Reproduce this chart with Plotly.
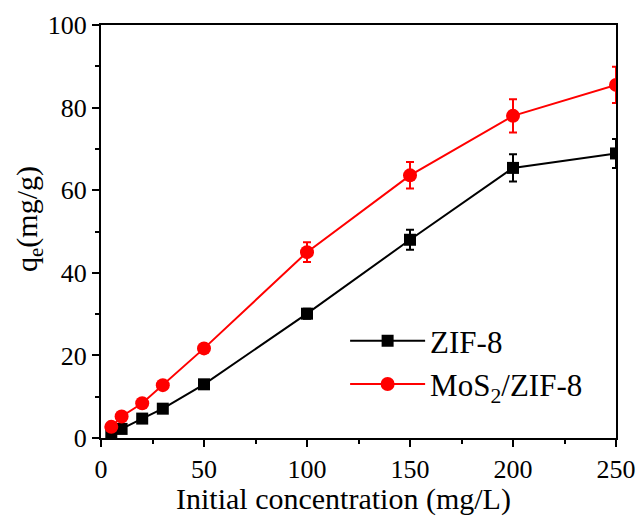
import plotly.graph_objects as go

conc = [5, 10, 20, 30, 50, 100, 150, 200, 250]
zif8 = [0.8, 2.2, 4.7, 7.1, 13.0, 30.1, 48.0, 65.4, 68.9]
zif8_err = [0.3, 0.4, 0.5, 0.6, 0.7, 1.2, 2.4, 3.3, 3.5]
mos2 = [2.7, 5.2, 8.4, 12.8, 21.7, 45.0, 63.6, 78.0, 85.5]
mos2_err = [0.3, 0.4, 0.5, 0.6, 0.7, 2.4, 3.2, 4.0, 4.4]

FONT = "Times New Roman, Liberation Serif, Tinos, serif"

fig = go.Figure()
fig.add_trace(go.Scatter(
    x=conc, y=zif8, name="ZIF-8", mode="lines+markers",
    line=dict(color="black", width=2),
    marker=dict(symbol="square", size=12, color="black"),
    error_y=dict(type="data", array=zif8_err, visible=True, color="black", thickness=2, width=4),
))
fig.add_trace(go.Scatter(
    x=conc, y=mos2, name="MoS<sub>2</sub>/ZIF-8", mode="lines+markers",
    line=dict(color="#ff0000", width=2),
    marker=dict(symbol="circle", size=14, color="#ff0000"),
    error_y=dict(type="data", array=mos2_err, visible=True, color="#ff0000", thickness=2, width=4),
))

axis_common = dict(
    showline=True, linecolor="black", linewidth=2, mirror=True,
    ticks="outside", ticklen=7, tickwidth=2, tickcolor="black",
    showgrid=False, zeroline=False, automargin=False,
    tickfont=dict(family=FONT, size=26, color="black"),
)
fig.update_xaxes(
    range=[0, 250], tick0=0, dtick=50,
    minor=dict(ticks="outside", ticklen=4, tickwidth=2, tickcolor="black", dtick=25, showgrid=False),
    **axis_common,
)
fig.update_yaxes(
    range=[0, 100], tick0=0, dtick=20,
    minor=dict(ticks="outside", ticklen=4, tickwidth=2, tickcolor="black", dtick=10, showgrid=False),
    **axis_common,
)
fig.add_annotation(
    text="Initial concentration (mg/L)", xref="paper", yref="paper",
    x=(343 - 101) / 515, y=(438 - 518) / 413, xanchor="center", yanchor="bottom",
    showarrow=False, font=dict(family=FONT, size=30, color="black"),
)
fig.add_annotation(
    text="q<sub>e</sub>(mg/g)", xref="paper", yref="paper",
    x=(29 - 101) / 515, y=(438 - 219) / 413, xanchor="center", yanchor="middle",
    textangle=-90, showarrow=False, font=dict(family=FONT, size=30, color="black"),
)
fig.update_layout(
    width=638, height=518,
    margin=dict(l=101, r=22, t=25, b=80, autoexpand=False),
    plot_bgcolor="white", paper_bgcolor="white",
    legend=dict(
        x=0.474, y=0.30, xanchor="left", yanchor="top",
        bgcolor="rgba(0,0,0,0)", font=dict(family=FONT, size=31, color="black"),
        itemwidth=75, tracegroupgap=0,
    ),
    showlegend=True,
)
fig.write_html("out.html", config={"displayModeBar": False},
               post_script="document.body.style.margin='0';")
